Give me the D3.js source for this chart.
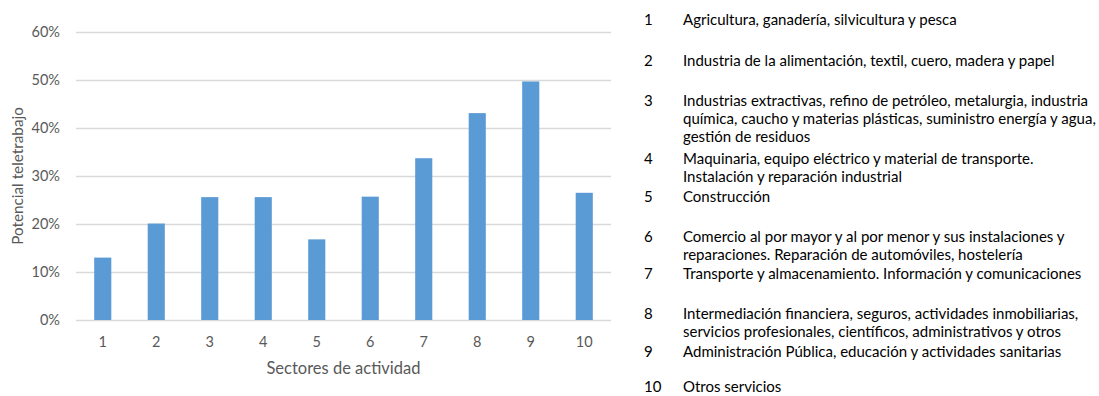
<!DOCTYPE html>
<html>
<head>
<meta charset="utf-8">
<script src="https://cdn.jsdelivr.net/npm/d3@7"></script>
<style>
  html, body { margin: 0; padding: 0; background: #fff; }
  svg { display: block; font-family: Lato, "Open Sans", sans-serif; }
</style>
</head>
<body>
<svg id="chart" width="1099" height="396"></svg>
<script>
// Sector codes and share of jobs that could be done remotely
const sectors = ["1", "2", "3", "4", "5", "6", "7", "8", "9", "10"];
const teleworkShare = [0.130, 0.201, 0.256, 0.256, 0.168, 0.257, 0.337, 0.431, 0.497, 0.265];
const yTicks = [0, 0.1, 0.2, 0.3, 0.4, 0.5, 0.6];

// Sector descriptions, already split into display lines
const sectorNames = [
  ["Agricultura, ganadería, silvicultura y pesca"],
  ["Industria de la alimentación, textil, cuero, madera y papel"],
  ["Industrias extractivas, refino de petróleo, metalurgia, industria",
   "química, caucho y materias plásticas, suministro energía y agua,",
   "gestión de residuos"],
  ["Maquinaria, equipo eléctrico y material de transporte.",
   "Instalación y reparación industrial"],
  ["Construcción"],
  ["Comercio al por mayor y al por menor y sus instalaciones y",
   "reparaciones. Reparación de automóviles, hostelería"],
  ["Transporte y almacenamiento. Información y comunicaciones"],
  ["Intermediación financiera, seguros, actividades inmobiliarias,",
   "servicios profesionales, científicos, administrativos y otros"],
  ["Administración Pública, educación y actividades sanitarias"],
  ["Otros servicios"]
];

const svg = d3.select("#chart");
const plot = { left: 76, right: 611, top: 32, bottom: 320 };

const x = d3.scaleBand()
  .domain(sectors)
  .range([plot.left, plot.right])
  .paddingInner(0.68)
  .paddingOuter(0.34);

const y = d3.scaleLinear()
  .domain([0, 0.6])
  .range([plot.bottom, plot.top]);

// Horizontal gridlines
svg.append("g")
  .selectAll("line")
  .data(yTicks)
  .join("line")
  .attr("x1", plot.left)
  .attr("x2", plot.right)
  .attr("y1", d => Math.round(y(d)) + 0.5)
  .attr("y2", d => Math.round(y(d)) + 0.5)
  .attr("stroke", "#d9d9d9")
  .attr("stroke-width", 1.3);

// Bars
svg.append("g")
  .selectAll("rect")
  .data(teleworkShare)
  .join("rect")
  .attr("x", (d, i) => x(sectors[i]))
  .attr("y", d => y(d))
  .attr("width", x.bandwidth())
  .attr("height", d => y(0) - y(d))
  .attr("fill", "#5b9bd5");

// Y axis labels
const yAxis = d3.axisLeft(y)
  .tickValues(yTicks)
  .tickFormat(d3.format(".0%"))
  .tickSize(0)
  .tickPadding(16);
const yg = svg.append("g")
  .attr("transform", `translate(${plot.left},0)`)
  .call(yAxis);
yg.select(".domain").remove();
yg.selectAll("text")
  .attr("fill", "#595959")
  .style("font-family", "Lato, sans-serif")
  .style("font-size", "14.5px");

// X axis labels
const xAxis = d3.axisBottom(x).tickSize(0).tickPadding(17);
const xg = svg.append("g")
  .attr("transform", `translate(0,${plot.bottom})`)
  .call(xAxis);
xg.select(".domain").remove();
xg.selectAll("text")
  .attr("fill", "#595959")
  .style("font-family", "Lato, sans-serif")
  .style("font-size", "14.5px");

// Axis titles
svg.append("text")
  .attr("x", (plot.left + plot.right) / 2)
  .attr("y", 374)
  .attr("text-anchor", "middle")
  .attr("fill", "#595959")
  .style("font-size", "16.5px")
  .text("Sectores de actividad");

svg.append("text")
  .attr("transform", "translate(23,176) rotate(-90)")
  .attr("text-anchor", "middle")
  .attr("fill", "#595959")
  .style("font-size", "15.3px")
  .text("Potencial teletrabajo");

// Sector key on the right
const keyTop = [25, 66, 106, 164, 202, 242, 279, 319, 357, 392];
const lineHeight = 18;
const key = svg.append("g").attr("fill", "#000").style("font-size", "15px");

sectorNames.forEach((lines, i) => {
  key.append("text")
    .attr("x", 644)
    .attr("y", keyTop[i])
    .text(sectors[i]);
  const t = key.append("text")
    .attr("x", 683)
    .attr("y", keyTop[i]);
  lines.forEach((ln, j) => {
    t.append("tspan")
      .attr("x", 683)
      .attr("y", keyTop[i] + j * lineHeight)
      .text(ln);
  });
});
</script>
</body>
</html>
